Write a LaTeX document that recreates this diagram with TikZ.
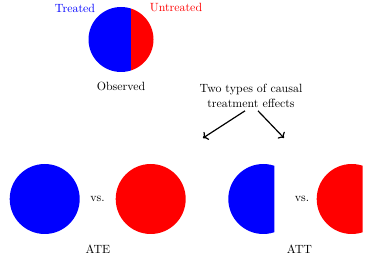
\documentclass[tikz,border=0pt]{standalone}
\usepackage{xcolor}
\usetikzlibrary{arrows.meta,positioning,calc}

\begin{document}
\begin{tikzpicture}[x=0.84pt,y=-0.84pt,
  lbl/.style={font=\normalsize,inner sep=1pt},
  conn/.style={->,line width=1pt}]
  \useasboundingbox (0,0) rectangle (372,263);
  % cerchio osservato: trattati e non trattati
  \begin{scope}
    \clip (80,0) rectangle (131,80);
    \fill[blue] (121,39.5) circle (32.5);
  \end{scope}
  \begin{scope}
    \clip (131,0) rectangle (160,80);
    \fill[red] (121,39.5) circle (32.5);
  \end{scope}
  \node[lbl,blue] (treated) at (75,8) {Treated};
  \node[lbl,red] (untreated) at (176,8) {Untreated};
  \node[lbl] (observed) at (121,86) {Observed};
  % due tipi di effetto
  \node[lbl,align=center] (effects) at (251,96) {Two types of causal\\treatment effects};
  \coordinate (atehead) at (203,138);
  \coordinate (atthead) at (284,138);
  \draw[conn] ($(effects.south)+(-6,2)$) -- (atehead);
  \draw[conn] ($(effects.south)+(7,2)$) -- (atthead);
  % ATE: tutti trattati vs. nessuno trattato
  \fill[blue] (44.7,199) circle (35);
  \fill[red] (150.7,199) circle (35);
  \node[lbl] (vsate) at (97.5,199) {vs.};
  \node[lbl] (ate) at (98,249) {ATE};
  % ATT: solo i trattati
  \begin{scope}
    \clip (220,160) rectangle (274.3,240);
    \fill[blue] (263.3,199) circle (35);
  \end{scope}
  \begin{scope}
    \clip (310,160) rectangle (362.7,240);
    \fill[red] (351.7,199) circle (35);
  \end{scope}
  \node[lbl] (vsatt) at (302,199) {vs.};
  \node[lbl] (att) at (299.5,249) {ATT};
\end{tikzpicture}
\end{document}
